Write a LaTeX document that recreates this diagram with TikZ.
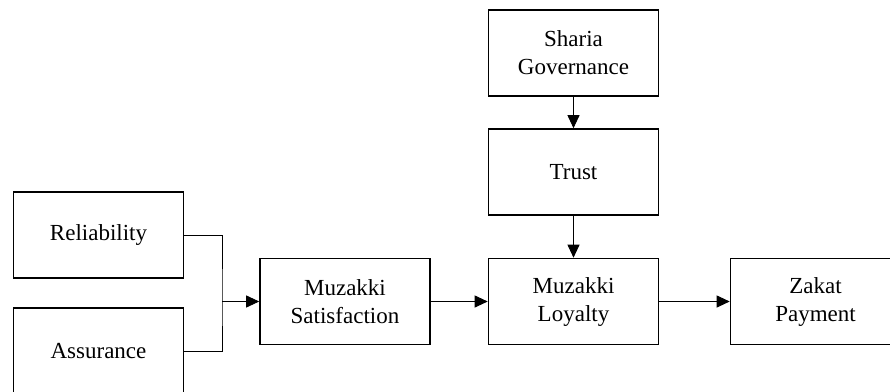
\documentclass[tikz,border=0pt]{standalone}
\usepackage{fontspec}
\setmainfont{Liberation Serif}
\usetikzlibrary{arrows.meta}
\usetikzlibrary{positioning}
\tikzset{box/.style = {draw, line width = 1.6, minimum width = 170, minimum height = 86, align = center, inner sep = 0,
    font = \fontsize{23}{28}\selectfont}}
\tikzset{arr/.style = {line width = 0.9, -{Triangle[length = 13, width = 12]}}}

\begin{document}
\begin{tikzpicture}[x = 1pt, y = -1pt]
      \clip (0, 0) rectangle (890, 391);

      \node [box] (rel) at (98.5, 235) {Reliability};
      \node [box] (ass) at (98.5, 351) {Assurance};
      \node [box] (sat) at (345, 301.5) {Muzakki\\Satisfaction};
      \node [box] (loy) at (573.5, 301.5) {Muzakki\\Loyalty};
      \node [box] (trust) at (573.5, 172) {Trust};
      \node [box] (sharia) at (573.5, 53) {Sharia\\Governance};
      \node [box] (zakat) at (815.5, 301.5) {Zakat\\Payment};

      \coordinate (join) at (222, 301.5);
      \draw [line width = 0.9] (rel.east) -| (join) |- (ass.east);
      \draw [arr] (join) -- (sat.west);

      \draw [arr] (sat) -- (loy);
      \draw [arr] (loy) -- (zakat);
      \draw [arr] (sharia) -- (trust);
      \draw [arr] (trust) -- (loy);
    \end{tikzpicture}
\end{document}
